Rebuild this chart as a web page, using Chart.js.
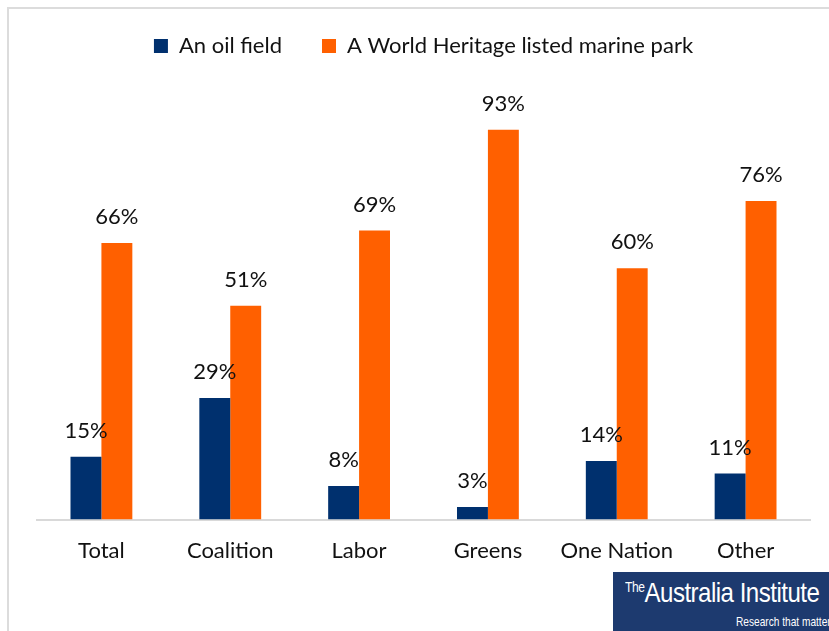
<!DOCTYPE html>
<html>
<head>
<meta charset="utf-8">
<script src="https://cdn.jsdelivr.net/npm/chart.js@4/dist/chart.umd.min.js"></script>
<style>
  html, body { margin: 0; padding: 0; background: #fff; }
  #wrap { position: relative; width: 829px; height: 631px; overflow: hidden; }
  #frame { position: absolute; left: 7px; top: 7px; width: 900px; height: 700px;
           border-left: 2px solid #dcdcdc; border-top: 2px solid #dcdcdc; }
  #logo { position: absolute; left: 613px; top: 572px; width: 240px; height: 70px;
          background: #1d3a6f; color: #fff; font-family: "Liberation Sans", "Open Sans", sans-serif; }
  #logo .main { position: absolute; left: 12px; top: 5px; font-size: 28px; letter-spacing: -0.6px; white-space: nowrap;
                transform: scaleX(0.86); transform-origin: left center; }
  #logo .main sup { font-size: 14px; letter-spacing: -0.5px; vertical-align: 10px; }
  #logo .sub { position: absolute; left: 123px; top: 42px; font-size: 13px; white-space: nowrap;
               transform: scaleX(0.78); transform-origin: left center; }
  canvas { position: absolute; left: 0; top: 0; }
</style>
</head>
<body>
<div id="wrap">
  <div id="frame"></div>
  <canvas id="chart" width="829" height="631"></canvas>
  <div id="logo"><span class="main"><sup>The</sup>Australia Institute</span><span class="sub">Research that matters</span></div>
</div>
<script>
// chart data
const categories = ['Total', 'Coalition', 'Labor', 'Greens', 'One Nation', 'Other'];
const oilField = [15, 29, 8, 3, 14, 11];
const marinePark = [66, 51, 69, 93, 60, 76];
const seriesNames = ['An oil field', 'A World Heritage listed marine park'];

const FONT = 'Lato, "Open Sans", sans-serif';

// draws the % labels above each bar
const valueLabels = {
  id: 'valueLabels',
  afterDatasetsDraw(chart) {
    const ctx = chart.ctx;
    ctx.save();
    ctx.font = '22px ' + FONT;
    ctx.fillStyle = '#111';
    ctx.textAlign = 'center';
    ctx.textBaseline = 'bottom';
    chart.data.datasets.forEach((ds, i) => {
      chart.getDatasetMeta(i).data.forEach((bar, j) => {
        ctx.fillText(ds.data[j] + '%', bar.x, bar.y - 15);
      });
    });
    ctx.restore();
  }
};

new Chart(document.getElementById('chart'), {
  type: 'bar',
  data: {
    labels: categories,
    datasets: [{
      label: seriesNames[0],
      data: oilField,
      backgroundColor: '#00306e',
      categoryPercentage: 0.48,
      barPercentage: 1
    }, {
      label: seriesNames[1],
      data: marinePark,
      backgroundColor: '#ff6000',
      categoryPercentage: 0.48,
      barPercentage: 1
    }]
  },
  options: {
    responsive: false,
    animation: false,
    devicePixelRatio: 1,
    layout: { padding: { left: 37, right: 19, top: -5, bottom: 49 } },
    plugins: {
      legend: {
        position: 'top',
        labels: {
          boxWidth: 14,
          boxHeight: 14,
          padding: 40,
          color: '#111',
          font: { family: FONT, size: 22 }
        }
      },
      tooltip: { enabled: false }
    },
    scales: {
      x: {
        grid: { display: false, drawTicks: false },
        border: { display: true, color: '#d9d9d9', width: 2 },
        ticks: { color: '#111', padding: 18, font: { family: FONT, size: 22 } }
      },
      y: {
        display: false,
        min: 0,
        max: 108
      }
    }
  },
  plugins: [valueLabels]
});
</script>
</body>
</html>
